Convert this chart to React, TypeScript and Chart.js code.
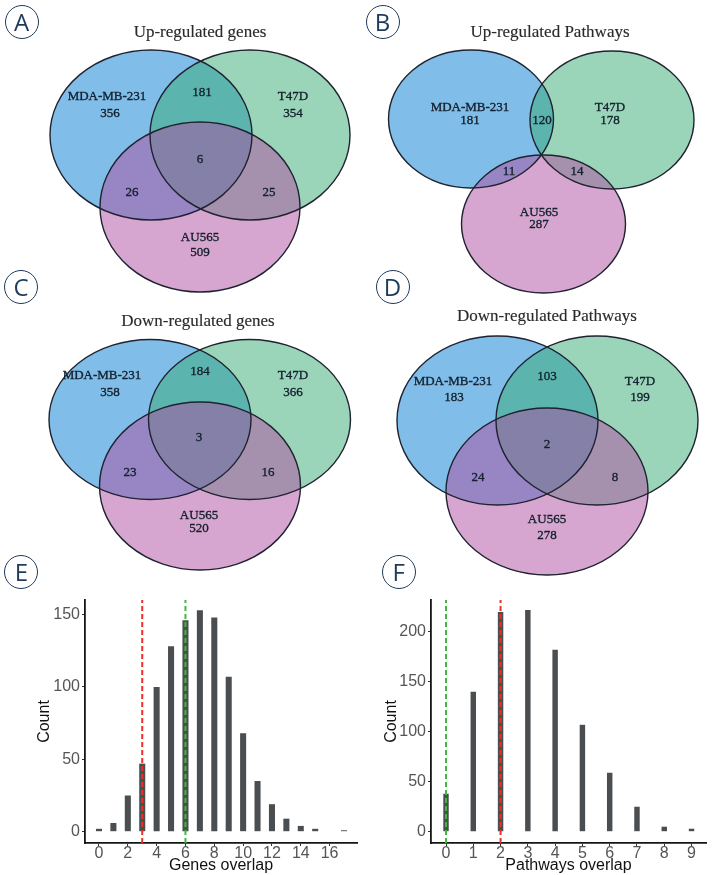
import React, { useEffect, useRef } from "react";
import { Chart, registerables } from "chart.js";
Chart.register(...registerables);

// ---------------- data ----------------
const setNames = ["MDA-MB-231", "T47D", "AU565"];
// region order: only set1, only set2, only set3, 1∩2, 1∩3, 2∩3, 1∩2∩3
const upGenes = [356, 354, 509, 181, 26, 25, 6];
const upPathways = [181, 178, 287, 120, 11, 14, null];
const downGenes = [358, 366, 520, 184, 23, 16, 3];
const downPathways = [183, 199, 278, 103, 24, 8, 2];
const vennTitles = [
  "Up-regulated genes",
  "Up-regulated Pathways",
  "Down-regulated genes",
  "Down-regulated Pathways",
];

const genesOverlap = [0, 1, 2, 3, 4, 5, 6, 7, 8, 9, 10, 11, 12, 13, 14, 15, 16, 17];
const genesCount = [2, 6, 25, 47, 100, 128, 146, 153, 148, 107, 68, 35, 19, 9, 4, 2, 0, 1];
const genesXTicks = [0, 2, 4, 6, 8, 10, 12, 14, 16];
const genesYTicks = [0, 50, 100, 150];
const genesMarkers = [3, 6]; // red, green

const pathwaysOverlap = [0, 1, 2, 3, 4, 5, 6, 7, 8, 9];
const pathwaysCount = [38, 140, 220, 222, 182, 107, 59, 25, 5, 3];
const pathwaysXTicks = [0, 1, 2, 3, 4, 5, 6, 7, 8, 9];
const pathwaysYTicks = [0, 50, 100, 150, 200];
const pathwaysMarkers = [2, 0]; // red, green

const panelLetters = ["A", "B", "C", "D", "E", "F"];

// ---------------- layout / style ----------------
const letterCenters = [
  [21.5, 21.5],
  [382.5, 21.5],
  [21, 287],
  [392.5, 287],
  [21.3, 572],
  [398.8, 571.5],
];

type VLayout = {
  ellipses: number[][];
  title: number[];
  names: number[][];
  regions: number[][];
};
const vennLayouts: VLayout[] = [
  {
    ellipses: [[151, 135, 101, 85], [250, 135, 100, 85], [200, 207, 100, 85]],
    title: [200, 33],
    names: [[107, 97], [293, 97], [200, 238]],
    regions: [[110, 114], [293, 114], [200, 253], [202, 93], [132, 193], [269, 193], [200, 160]],
  },
  {
    ellipses: [[471, 119, 82.5, 69], [612, 120, 82, 69], [543.5, 224, 82, 69]],
    title: [550, 33],
    names: [[470, 108], [610, 108], [539, 213]],
    regions: [[470, 121], [610, 121], [539, 225], [542, 121], [509, 172], [577, 172], [543, 150]],
  },
  {
    ellipses: [[150, 419.5, 101, 80], [249.5, 419.5, 101, 80], [200, 486, 100.5, 84]],
    title: [198, 322],
    names: [[102, 376], [293, 376], [199, 516]],
    regions: [[110, 393], [293, 393], [199, 529], [200, 372], [130, 473], [268, 473], [199, 438]],
  },
  {
    ellipses: [[497.5, 420.5, 100.5, 84.5], [597, 420.5, 101, 84.5], [547, 491.5, 101, 83.5]],
    title: [547, 317],
    names: [[453, 382], [640, 382], [547, 520]],
    regions: [[454, 398], [640, 398], [547, 536], [547, 377], [478, 478], [615, 478], [547, 445]],
  },
];
const vennFills = ["rgba(1,123,209,0.5)", "rgba(55,171,115,0.5)", "rgba(175,77,161,0.5)"];
const vennStroke = "#1f2330";
const vennText = "#14202e";
const serif = "'Liberation Serif', 'Times New Roman', serif";
const sans = "'Liberation Sans', Arial, sans-serif";

function boldishText(ctx: any, text: string, x: number, y: number, color: string, w: number) {
  ctx.fillStyle = color;
  ctx.strokeStyle = color;
  ctx.lineWidth = w;
  ctx.lineJoin = "round";
  ctx.strokeText(text, x, y);
  ctx.fillText(text, x, y);
}

const vennPlugin = {
  id: "vennDraw",
  afterDraw(chart: any) {
    const { ctx } = chart;
    const x = chart.scales.x;
    const y = chart.scales.y;
    const px = (v: number) => x.getPixelForValue(v);
    const py = (v: number) => y.getPixelForValue(v);
    const panels = [upGenes, upPathways, downGenes, downPathways];
    ctx.save();
    panels.forEach((counts, i) => {
      const L = vennLayouts[i];
      const shapes = L.ellipses.map(([cx, cy, rx, ry]) => [
        px(cx),
        py(cy),
        Math.abs(px(cx + rx) - px(cx)),
        Math.abs(py(cy + ry) - py(cy)),
      ]);
      shapes.forEach((s, k) => {
        ctx.beginPath();
        ctx.ellipse(s[0], s[1], s[2], s[3], 0, 0, Math.PI * 2);
        ctx.fillStyle = vennFills[k];
        ctx.fill();
      });
      shapes.forEach((s) => {
        ctx.beginPath();
        ctx.ellipse(s[0], s[1], s[2], s[3], 0, 0, Math.PI * 2);
        ctx.strokeStyle = vennStroke;
        ctx.lineWidth = 1.4;
        ctx.stroke();
      });
      ctx.textAlign = "center";
      ctx.textBaseline = "middle";
      ctx.font = `17px ${serif}`;
      boldishText(ctx, vennTitles[i], px(L.title[0]), py(L.title[1]), "#2a2a2a", 0.15);
      ctx.font = `13px ${serif}`;
      L.names.forEach((p, k) => boldishText(ctx, setNames[k], px(p[0]), py(p[1]), vennText, 0.35));
      counts.forEach((c, r) => {
        if (c === null || c === undefined) return;
        const p = L.regions[r];
        boldishText(ctx, String(c), px(p[0]), py(p[1]), vennText, 0.35);
      });
    });
    ctx.restore();
  },
};

function vennConfig(): any {
  return {
    type: "scatter",
    data: { datasets: [] },
    options: {
      animation: false,
      responsive: false,
      layout: { padding: 0 },
      plugins: { legend: { display: false }, tooltip: { enabled: false } },
      scales: {
        x: { type: "linear", min: 0, max: 715, display: false },
        y: { type: "linear", min: 0, max: 875, reverse: true, display: false },
      },
    },
    plugins: [vennPlugin],
  };
}

const markerColors = ["#e8332b", "#3cba3c"];

function histConfig(o: {
  xs: number[];
  counts: number[];
  xTicks: number[];
  yTicks: number[];
  markers: number[];
  xTitle: string;
  xMin: number;
  xMax: number;
  yMin: number;
  yMax: number;
  barPct: number;
  padding: any;
  yAxisWidth: number;
  xAxisHeight: number;
}): any {
  const tickFont = { family: sans, size: 16, lineHeight: 1 };
  const titleFont = { family: sans, size: 16, lineHeight: 1.2 };
  return {
    type: "bar",
    data: {
      datasets: [
        ...o.markers.map((m, k) => ({
          type: "line",
          data: [
            { x: m, y: o.yMin },
            { x: m, y: o.yMax },
          ],
          borderColor: markerColors[k],
          borderWidth: 2,
          borderDash: [5, 3],
          pointRadius: 0,
          fill: false,
          order: 0,
        })),
        {
          type: "bar",
          data: o.xs.map((v, i) => ({ x: v, y: o.counts[i] })),
          backgroundColor: "#4b4e50",
          barPercentage: o.barPct,
          categoryPercentage: 1,
          order: 1,
        },
      ],
    },
    options: {
      animation: false,
      responsive: false,
      layout: { padding: o.padding },
      plugins: { legend: { display: false }, tooltip: { enabled: false } },
      scales: {
        x: {
          type: "linear",
          min: o.xMin,
          max: o.xMax,
          offset: false,
          grid: { offset: false, drawOnChartArea: false, drawTicks: true, tickLength: 3, color: "#333" },
          border: { display: true, color: "#151515", width: 1.8 },
          ticks: { color: "#555", font: tickFont, padding: 0, maxRotation: 0, autoSkip: false },
          title: { display: true, text: o.xTitle, color: "#111", font: titleFont, padding: 0 },
          afterBuildTicks: (s: any) => {
            s.ticks = o.xTicks.map((v) => ({ value: v }));
          },
          afterFit: (s: any) => {
            s.height = o.xAxisHeight;
          },
        },
        y: {
          type: "linear",
          min: o.yMin,
          max: o.yMax,
          grid: { drawOnChartArea: false, drawTicks: true, tickLength: 3, color: "#333" },
          border: { display: true, color: "#151515", width: 1.8 },
          ticks: { color: "#555", font: tickFont, padding: 2 },
          title: { display: true, text: "Count", color: "#111", font: titleFont, padding: 0 },
          afterBuildTicks: (s: any) => {
            s.ticks = o.yTicks.map((v) => ({ value: v }));
          },
          afterFit: (s: any) => {
            s.width = o.yAxisWidth;
          },
        },
      },
    },
  };
}

export default function App() {
  const vennRef = useRef<HTMLCanvasElement>(null);
  const eRef = useRef<HTMLCanvasElement>(null);
  const fRef = useRef<HTMLCanvasElement>(null);

  useEffect(() => {
    const charts: Chart[] = [];
    charts.push(new Chart(vennRef.current as HTMLCanvasElement, vennConfig()));
    charts.push(
      new Chart(
        eRef.current as HTMLCanvasElement,
        histConfig({
          xs: genesOverlap,
          counts: genesCount,
          xTicks: genesXTicks,
          yTicks: genesYTicks,
          markers: genesMarkers,
          xTitle: "Genes overlap",
          xMin: -0.97,
          xMax: 17.9,
          yMin: -7.8,
          yMax: 160,
          barPct: 0.42,
          padding: { left: 35, top: 9.5, right: 3, bottom: 0 },
          yAxisWidth: 50,
          xAxisHeight: 32,
        })
      )
    );
    charts.push(
      new Chart(
        fRef.current as HTMLCanvasElement,
        histConfig({
          xs: pathwaysOverlap,
          counts: pathwaysCount,
          xTicks: pathwaysXTicks,
          yTicks: pathwaysYTicks,
          markers: pathwaysMarkers,
          xTitle: "Pathways overlap",
          xMin: -0.55,
          xMax: 9.53,
          yMin: -11.3,
          yMax: 231.9,
          barPct: 0.2,
          padding: { left: 25, top: 9, right: 9, bottom: 0 },
          yAxisWidth: 49,
          xAxisHeight: 32,
        })
      )
    );
    return () => charts.forEach((c) => c.destroy());
  }, []);

  return (
    <div
      style={{
        position: "absolute",
        left: 0,
        top: 0,
        width: 715,
        height: 875,
        background: "#fff",
        overflow: "hidden",
      }}
    >
      <canvas
        ref={vennRef}
        width={715}
        height={875}
        style={{ position: "absolute", left: 0, top: 0, width: 715, height: 875 }}
      />
      <canvas
        ref={eRef}
        width={360}
        height={285}
        style={{ position: "absolute", left: 0, top: 590, width: 360, height: 285 }}
      />
      <canvas
        ref={fRef}
        width={358}
        height={285}
        style={{ position: "absolute", left: 357, top: 590, width: 358, height: 285 }}
      />
      {panelLetters.map((l, i) => (
        <div
          key={l}
          style={{
            position: "absolute",
            left: letterCenters[i][0] - 17,
            top: letterCenters[i][1] - 17,
            width: 34,
            height: 34,
            boxSizing: "border-box",
            border: "1.5px solid #1f3b5c",
            borderRadius: "50%",
            display: "flex",
            alignItems: "center",
            justifyContent: "center",
            fontFamily: "'Open Sans', sans-serif",
            fontSize: 24,
            lineHeight: "34px",
            color: "#1f3b5c",
          }}
        >
          {l}
        </div>
      ))}
    </div>
  );
}
